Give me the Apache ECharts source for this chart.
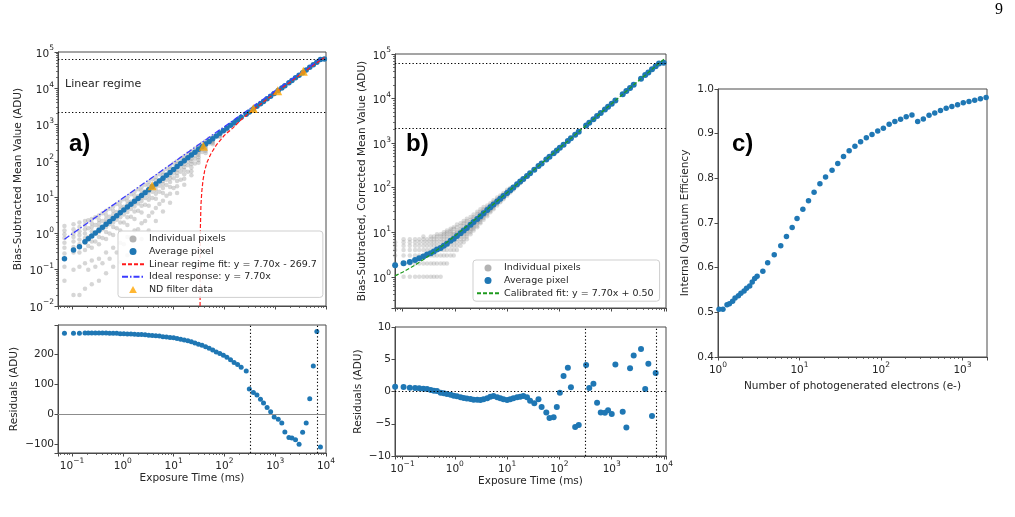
<!DOCTYPE html>
<html>
<head>
<meta charset="utf-8">
<title>Linearity</title>
<script src="https://cdn.jsdelivr.net/npm/echarts@6/dist/echarts.min.js"></script>
<style>
html, body { margin: 0; padding: 0; background: #fff; }
#fig { width: 1015px; height: 517px; }
</style>
</head>
<body>
<div id="fig"></div>
<script>
// ---------- panel a : average pixel, residuals (exposure time in ms) ----------
var timeA = [0.071, 0.107, 0.14, 0.18, 0.209, 0.245, 0.288, 0.339, 0.398, 0.468, 0.55, 0.646, 0.759, 0.891,
  1.047, 1.23, 1.445, 1.70, 2.0, 2.34, 2.75, 3.24, 3.80, 4.47, 5.25, 6.17, 7.24, 8.51, 10, 11.7, 13.8, 16.2,
  19.1, 22.4, 26.3, 30.9, 36.3, 42.7, 50.1, 58.9, 69.2, 81.3, 95.5, 112, 132, 155, 182, 214, 269,
  309, 372, 437, 513, 589, 692, 813, 955, 1148, 1349, 1549, 1862, 2138, 2512, 2951, 3467, 4074, 4786,
  5623, 6607, 7762];
var meanA = [0.20, 0.35, 0.43, 0.59, 0.71, 0.85, 1.02, 1.23, 1.48, 1.78, 2.13, 2.56, 3.07, 3.69,
  4.43, 5.32, 6.39, 7.67, 9.2, 11.1, 13.3, 16.0, 19.2, 23.1, 27.7, 33.3, 40, 48, 58, 70, 84, 101,
  121, 145, 174, 209, 246, 290, 344, 408, 483, 572, 678, 803, 951, 1127, 1335, 1580, 1940,
  2230, 2700, 3190, 3770, 4350, 5150, 6070, 7160, 8660, 10200, 11800, 14200, 16400, 19400, 22900, 27000, 31900, 37700,
  44500, 52500, 62000];
var residA = [270, 270, 270, 271, 271, 271, 271, 271, 271, 271, 270, 270, 270, 269,
  269, 268, 268, 267, 266, 266, 265, 264, 263, 262, 261, 259, 258, 256, 255, 253, 250, 248,
  245, 242, 238, 234, 230, 225, 220, 214, 208, 203, 197, 190, 182, 173, 166, 157, 144,
  84, 72, 64, 50, 37, 22, 8, -10, -17, -30, -60, -78, -80, -86, -101, -61, -30, 51,
  161, 276, -110];
var satA = [[9300, 64500]];

var linFitA = [[33.2, 0.01], [33.4, 0.3], [33.7, 1.5], [34.5, 6], [36, 15], [38, 30], [41, 55], [46, 95],
  [54, 155], [69, 270], [99, 500], [146, 800], [228, 1480], [360, 2500], [1000, 7400], [3000, 22800], [9300, 71000]];
var idealA = [[0.071, 0.69], [7950, 66000]];
var ndFilter = [[3.78, 20.5], [38.6, 251], [372, 2760], [1120, 8500], [3580, 29500]];

// individual pixels (panel a): exposure -> pixel values
var pixTimeA = [0.071, 0.107, 0.14, 0.18, 0.209, 0.245, 0.288, 0.339, 0.398, 0.468, 0.55, 0.646, 0.759, 0.891,
  1.047, 1.23, 1.445, 1.70, 2.0, 2.34, 2.75, 3.24, 3.8, 4.47, 5.25, 6.17, 7.24, 8.51, 10, 11.7, 13.8, 16.2,
  19.1, 22.4, 26.3, 30.9, 36.3, 42.7, 50.1, 58.9, 81.3, 112, 155];
var pixValA = [
  [1.6, 1.2, 0.95, 0.75, 0.55, 0.4, 0.28, 0.12, 0.05],
  [1.8, 1.3, 1.0, 0.8, 0.6, 0.42, 0.3, 0.1, 0.02],
  [2.0, 1.5, 1.15, 0.9, 0.68, 0.5, 0.3, 0.12, 0.02],
  [2.2, 1.7, 1.3, 1.0, 0.75, 0.55, 0.35, 0.15, 0.03],
  [2.3, 1.4, 0.8, 0.45, 0.1],
  [2.5, 1.9, 1.5, 1.15, 0.85, 0.6, 0.4, 0.18, 0.04],
  [2.8, 1.7, 1.0, 0.6, 0.12],
  [3.1, 2.4, 1.9, 1.5, 1.1, 0.8, 0.5, 0.2, 0.05],
  [3.6, 2.2, 1.3, 0.75, 0.15],
  [4.2, 3.2, 2.5, 2.0, 1.5, 1.1, 0.7, 0.3, 0.08],
  [4.8, 2.9, 1.8, 1.0, 0.2],
  [5.5, 4.2, 3.3, 2.6, 2.0, 1.5, 0.9, 0.4, 0.12],
  [6.5, 3.9, 2.4, 1.4, 0.3],
  [7.5, 5.7, 4.5, 3.6, 2.8, 2.0, 1.2, 0.55, 0.16],
  [8.8, 5.4, 3.3, 2.0, 0.5],
  [10, 7.8, 6.2, 5.0, 3.9, 2.8, 1.7, 0.8, 0.25],
  [12, 7.5, 4.7, 2.9, 0.8],
  [14, 11, 8.6, 7.0, 5.5, 4.0, 2.5, 1.2, 0.35],
  [16.5, 10.5, 6.7, 4.2, 1.3],
  [19, 15, 12, 9.8, 7.8, 5.8, 3.8, 1.9, 0.7],
  [22, 14.5, 9.5, 6.2, 2.2],
  [26, 21, 17, 14, 11, 8.5, 5.8, 3.0, 1.2],
  [31, 20.5, 14, 9.5, 3.8],
  [36, 29, 24, 20, 16, 12.5, 9, 5, 2.2],
  [43, 29, 20.5, 14, 6.5],
  [50, 41, 34, 28, 23, 18, 13, 8, 4],
  [60, 42, 30, 21.5, 11],
  [70, 58, 48, 40, 33, 26, 19, 12.5, 7],
  [84, 60, 45, 33, 18],
  [98, 82, 68, 57, 47, 38, 28, 20, 13],
  [115, 85, 65, 50, 30],
  [135, 114, 96, 81, 68, 56, 43, 32, 22],
  [160, 122, 96, 76, 50],
  [185, 158, 135, 115, 98, 82, 66, 52, 40],
  [220, 172, 140, 115, 85],
  [255, 220, 190, 165, 145, 125, 105, 88],
  [300, 245, 205, 175],
  [350, 305, 270, 240, 215, 190, 165],
  [410, 345, 300],
  [470, 420, 380, 345, 315, 285],
  [630, 580, 530, 490, 455],
  [850, 790, 740, 700],
  [1150, 1080, 1020]
];

// ---------- panel b : corrected ----------
var timeB = [0.0724, 0.105, 0.138, 0.174, 0.209, 0.251, 0.295, 0.347, 0.398, 0.457,
  0.537, 0.617, 0.708, 0.832, 0.955, 1.10, 1.29, 1.48, 1.70, 2.0,
  2.29, 2.69, 3.09, 3.55, 4.17, 4.79, 5.50, 6.46, 7.41, 8.51,
  10, 11.5, 13.2, 15.5, 17.8, 20.4, 24, 27.5, 33.1, 39.8,
  45.7, 56.2, 64.6, 77.6, 89.1, 102, 120, 145, 166, 200,
  234, 324, 372, 447, 525, 617, 741, 851, 1000, 1175,
  1622, 1905, 2239, 2630, 3631, 4365, 5012, 5888, 6918];
var meanB = [1.81, 2.01, 2.16, 2.39, 2.61, 2.87, 3.16, 3.40, 3.69, 4.10,
  4.45, 4.96, 5.56, 6.42, 7.20, 8.22, 9.52, 10.9, 12.5, 14.7,
  16.9, 19.9, 23.0, 26.6, 31.5, 36.6, 42.2, 49.3, 56.5, 64.8,
  76.2, 87.9, 101, 119, 137, 157, 184, 211, 253, 305,
  349, 429, 494, 595, 684, 786, 924, 1120, 1280, 1540,
  1800, 2500, 2870, 3440, 4040, 4750, 5710, 6550, 7700, 9050,
  12500, 14700, 17200, 20300, 28000, 33600, 38600, 45300, 53300];
var residB = [0.75, 0.7, 0.6, 0.55, 0.5, 0.44, 0.39, 0.23, 0.13, 0.08,
  -0.18, -0.29, -0.39, -0.49, -0.65, -0.75, -0.91, -1.0, -1.1, -1.17,
  -1.27, -1.27, -1.3, -1.2, -1.06, -0.8, -0.7, -0.9, -1.06, -1.2,
  -1.32, -1.2, -1.06, -0.9, -0.8, -0.7, -0.9, -1.43, -1.84, -1.22,
  -2.4, -3.25, -4.1, -4.0, -2.4, -0.18, 2.4, 3.7, 0.65, -5.5,
  -5.2, 4.1, 0.55, 1.2, -1.75, -3.25, -3.3, -2.9, -3.5, 4.2,
  -3.15, -5.6, 3.6, 5.6, 6.6, 0.4, 4.3, -3.8, 2.85];
var satB = [[8000, 61000], [9800, 63500]];
var calFitB = [[0.072, 1.05], [0.1, 1.27], [0.15, 1.66], [0.2, 2.04], [0.3, 2.81], [0.5, 4.35], [0.7, 5.9],
  [1, 8.2], [2, 15.9], [5, 39], [10, 77.5], [100, 770], [1000, 7700], [10000, 77000]];

var pixTimeB = [0.0724, 0.105, 0.138, 0.174, 0.209, 0.251, 0.295, 0.347, 0.398, 0.457,
  0.537, 0.617, 0.708, 0.832, 0.955, 1.10, 1.29, 1.48, 1.70, 2.0,
  2.29, 2.69, 3.09, 3.55, 4.17, 4.79, 5.50, 6.46, 7.41, 8.51,
  10, 11.5, 13.2, 15.5, 17.8, 20.4];
var pixValB = [
  [2, 3, 4, 5, 6],
  [1, 2, 3, 4, 5, 6, 7],
  [1, 2, 3, 4, 5, 6, 7],
  [1, 2, 3, 4, 5, 6, 7],
  [1, 2, 3, 4, 5, 6, 7],
  [1, 2, 3, 4, 5, 6, 7, 8],
  [1, 2, 3, 4, 5, 6, 7],
  [1, 2, 3, 4, 5, 6, 7, 8],
  [1, 2, 3, 4, 5, 6, 7, 8],
  [1, 2, 3, 4, 5, 6, 7, 8, 9],
  [1, 2, 3, 4, 5, 6, 7, 8, 9],
  [2, 3, 4, 5, 6, 7, 8, 9, 10],
  [2, 3, 4, 5, 6, 7, 8, 9, 10, 11],
  [3, 4, 5, 6, 7, 8, 9, 10, 11, 12],
  [3, 4, 5, 6, 7, 8, 9, 10, 12, 13],
  [4, 5, 6, 7, 8, 9, 10, 11, 13, 15],
  [5, 6, 7, 8, 9, 10, 11, 12, 14, 16],
  [6, 7, 8, 9, 10, 11, 12, 14, 16, 18],
  [7, 8, 9, 10, 11, 12, 13, 14, 16, 18, 20],
  [9, 10, 11, 12, 13, 14, 15, 17, 19, 22],
  [11, 12, 13, 14, 15, 16, 17, 18, 20, 22, 25],
  [13, 14, 16, 17, 18, 19, 20, 21, 23, 26, 29],
  [16, 17, 19, 20, 21, 22, 23, 24, 26, 29, 33],
  [19, 21, 23, 24, 25, 26, 27, 28, 30, 33, 37],
  [23, 25, 27, 29, 30, 31, 32, 34, 36, 40],
  [28, 30, 32, 34, 35, 36, 37, 39, 41, 45],
  [33, 35, 38, 40, 41, 42, 43, 45, 48, 52],
  [40, 43, 46, 48, 49, 50, 52, 55, 60],
  [47, 50, 53, 55, 56, 57, 59, 62, 67],
  [55, 58, 61, 63, 64, 65, 67, 70, 76],
  [66, 70, 73, 75, 76, 77, 79, 83, 90],
  [78, 82, 85, 87, 88, 90, 93, 98],
  [90, 95, 98, 100, 101, 103, 107],
  [108, 113, 117, 119, 121, 125],
  [126, 131, 135, 137, 140],
  [147, 152, 156, 158]
];

// ---------- panel c : internal quantum efficiency ----------
var electronsC = [1.03, 1.15, 1.29, 1.38, 1.51, 1.62, 1.78, 1.91, 2.09, 2.24,
  2.45, 2.63, 2.82, 3.02, 3.55, 4.07, 4.90, 5.89, 6.92, 8.13,
  9.33, 11.0, 12.9, 15.1, 17.8, 20.9, 25.1, 29.5, 34.7, 40.7,
  47.9, 56.2, 66.1, 77.6, 91.2, 107, 126, 148, 174, 204,
  240, 282, 331, 389, 457, 537, 631, 741, 871, 1023,
  1202, 1413, 1660, 1950];
var iqeC = [0.507, 0.507, 0.517, 0.519, 0.525, 0.532, 0.537, 0.543, 0.548, 0.554,
  0.559, 0.568, 0.576, 0.581, 0.592, 0.611, 0.629, 0.649, 0.670, 0.690,
  0.710, 0.731, 0.750, 0.769, 0.788, 0.803, 0.818, 0.833, 0.849, 0.862,
  0.872, 0.882, 0.891, 0.898, 0.906, 0.912, 0.921, 0.927, 0.932, 0.938,
  0.942, 0.927, 0.933, 0.941, 0.946, 0.952, 0.957, 0.961, 0.965, 0.969,
  0.972, 0.975, 0.978, 0.981];

// reference levels
var hLevelsA = [62000, 2240];
var vLevelsA = [320, 6700];
var hLevelsB = [63000, 2200];
var vLevelsB = [312, 7200];

// ---------- helpers ----------
function zip(xs, ys) {
  return xs.map(function (x, i) { return [x, ys[i]]; });
}
function cloud(times, vals) {
  var out = [];
  times.forEach(function (t, i) {
    vals[i].forEach(function (v) { out.push([t, v]); });
  });
  return out;
}
function decade(v) {
  var e = Math.log10(v), k = Math.round(e);
  if (Math.abs(e - k) > 1e-6) return '';
  return '{b|10}{s|' + String(k).replace('-', '\u2212') + '}';
}
var decadeRich = {
  b: {fontSize: 10.5, fontFamily: 'DejaVu Sans', color: '#262626', lineHeight: 15, verticalAlign: 'bottom'},
  s: {fontSize: 7.5, fontFamily: 'DejaVu Sans', color: '#262626', lineHeight: 9, verticalAlign: 'top'}
};
function minus(v) { return String(v).replace('-', '\u2212'); }

var FONT = 'DejaVu Sans';
var INK = '#262626';
var SPINE = '#4a4a4a';
var BLUE = '#1f77b4';

function axis(gridIndex, extra) {
  var base = {
    gridIndex: gridIndex,
    nameLocation: 'middle',
    nameTextStyle: {color: INK, fontSize: 10.5, fontFamily: FONT},
    axisLine: {show: true, onZero: false, lineStyle: {color: SPINE, width: 1}},
    axisTick: {show: true, length: 3.5, lineStyle: {color: SPINE, width: 1}},
    axisLabel: {color: INK, fontSize: 10.5, fontFamily: FONT, margin: 4},
    splitLine: {show: false}
  };
  for (var k in extra) {
    if (typeof extra[k] === 'object' && base[k] && !Array.isArray(extra[k])) {
      base[k] = Object.assign({}, base[k], extra[k]);
    } else {
      base[k] = extra[k];
    }
  }
  return base;
}
function logAxis(gridIndex, min, max, extra) {
  var a = axis(gridIndex, Object.assign({type: 'log', logBase: 10, min: min, max: max}, extra));
  a.minorTick = {show: true, splitNumber: 9, length: 2, lineStyle: {color: SPINE, width: 0.8}};
  if (a.axisLabel.show !== false) {
    a.axisLabel.formatter = decade;
    a.axisLabel.rich = decadeRich;
  }
  return a;
}

function dotted(color) {
  return {color: color || '#000', width: 1.1, type: [1.3, 2.2]};
}
function refLines(hs, vs, zeroStyle) {
  var data = [];
  (hs || []).forEach(function (h) { data.push({yAxis: h, lineStyle: dotted()}); });
  (vs || []).forEach(function (v) { data.push({xAxis: v, lineStyle: dotted()}); });
  if (zeroStyle) data.push({yAxis: 0, lineStyle: zeroStyle});
  return {silent: true, symbol: ['none', 'none'], label: {show: false}, animation: false, data: data};
}

var grids = [
  {left: 58, top: 52, width: 268, height: 254},
  {left: 58, top: 325, width: 268, height: 128},
  {left: 395, top: 54, width: 271, height: 254},
  {left: 395, top: 327, width: 271, height: 129},
  {left: 718, top: 89, width: 269, height: 268}
].map(function (g) {
  return Object.assign({show: true, borderColor: SPINE, borderWidth: 1, containLabel: false}, g);
});

// legend icons: line items keep their dash but hide the marker
var TRIANGLE = 'path://M5,0 L10,9 L0,9 Z';
var legendBase = {
  orient: 'vertical', itemWidth: 22, itemHeight: 7, itemGap: 2.6, symbolKeepAspect: true,
  padding: [3, 6, 3, 3], backgroundColor: 'rgba(255,255,255,0.85)', borderColor: '#cfcfcf', borderWidth: 1,
  borderRadius: 3, textStyle: {fontSize: 9.5, color: INK, fontFamily: FONT}
};

var option = {
  animation: false,
  backgroundColor: '#fff',
  grid: grids,
  xAxis: [
    logAxis(0, 0.053, 10000, {axisLabel: {show: false}}),
    logAxis(1, 0.053, 10000, {name: 'Exposure Time (ms)', nameGap: 20}),
    logAxis(2, 0.072, 10900, {axisLabel: {show: false}}),
    logAxis(3, 0.072, 10900, {name: 'Exposure Time (ms)', nameGap: 20}),
    logAxis(4, 1, 2000, {name: 'Number of photogenerated electrons (e-)', nameGap: 19})
  ],
  yAxis: [
    logAxis(0, 0.01, 100000, {name: 'Bias-Subtracted Mean Value (ADU)', nameGap: 34}),
    axis(1, {type: 'value', min: -130, max: 298, name: 'Residuals (ADU)', nameGap: 38,
      axisLabel: {formatter: function (v) { return v % 100 === 0 ? minus(v) : ''; }}}),
    logAxis(2, 0.2, 100000, {name: 'Bias-Subtracted, Corrected Mean Value (ADU)', nameGap: 27}),
    axis(3, {type: 'value', min: -10, max: 10, interval: 5, name: 'Residuals (ADU)', nameGap: 31,
      axisLabel: {formatter: function (v) { return minus(v); }}}),
    axis(4, {type: 'value', min: 0.4, max: 1.0, interval: 0.1, name: 'Internal Quantum Efficiency', nameGap: 27,
      axisLabel: {formatter: function (v) { return v.toFixed(1); }}})
  ],
  legend: [
    Object.assign({}, legendBase, {
      left: 118, top: 231,
      data: [
        {name: 'Individual pixels', icon: 'circle', itemStyle: {color: '#a0a0a0', opacity: 0.8}},
        {name: 'Average pixel', icon: 'circle'},
        {name: 'Linear regime fit: y = 7.70x - 269.7', itemStyle: {opacity: 0}},
        {name: 'Ideal response: y = 7.70x', itemStyle: {opacity: 0}},
        {name: 'ND filter data', icon: TRIANGLE}
      ]
    }),
    Object.assign({}, legendBase, {
      left: 473, top: 260,
      data: [
        {name: 'Individual pixels', icon: 'circle', itemStyle: {color: '#a0a0a0', opacity: 0.8}},
        {name: 'Average pixel', icon: 'circle'},
        {name: 'Calibrated fit: y = 7.70x + 0.50', itemStyle: {opacity: 0}}
      ]
    })
  ],
  series: [
    // panel a, top
    {name: 'Individual pixels', type: 'scatter', xAxisIndex: 0, yAxisIndex: 0, symbolSize: 4.5,
      itemStyle: {color: '#808080', opacity: 0.32}, data: cloud(pixTimeA, pixValA),
      markLine: refLines(hLevelsA, null)},
    {name: 'Average pixel', type: 'scatter', xAxisIndex: 0, yAxisIndex: 0, symbolSize: 5.5,
      itemStyle: {color: BLUE, opacity: 1}, data: zip(timeA, meanA).concat(satA)},
    {name: 'Linear regime fit: y = 7.70x - 269.7', type: 'line', xAxisIndex: 0, yAxisIndex: 0, symbol: 'none',
      lineStyle: {color: '#ff1a1a', width: 1.2, type: [4, 2]}, itemStyle: {color: '#ff1a1a'}, data: linFitA, z: 3},
    {name: 'Ideal response: y = 7.70x', type: 'line', xAxisIndex: 0, yAxisIndex: 0, symbol: 'none',
      lineStyle: {color: '#3b3bff', width: 1.3, type: [6, 2, 1.5, 2]}, itemStyle: {color: '#3b3bff'}, data: idealA, z: 3},
    {name: 'ND filter data', type: 'scatter', xAxisIndex: 0, yAxisIndex: 0, symbol: 'triangle', symbolSize: 9,
      itemStyle: {color: '#ffa500'}, data: ndFilter, z: 4},
    // panel a, residuals
    {name: 'resA', type: 'scatter', xAxisIndex: 1, yAxisIndex: 1, symbolSize: 5,
      itemStyle: {color: BLUE, opacity: 1}, data: zip(timeA, residA),
      markLine: refLines(null, vLevelsA, {color: '#8c8c8c', width: 1, type: 'solid'})},
    // panel b, top
    {name: 'Individual pixels', type: 'scatter', xAxisIndex: 2, yAxisIndex: 2, symbolSize: 4.5,
      itemStyle: {color: '#808080', opacity: 0.28}, data: cloud(pixTimeB, pixValB),
      markLine: refLines(hLevelsB, null)},
    {name: 'Average pixel', type: 'scatter', xAxisIndex: 2, yAxisIndex: 2, symbolSize: 6,
      itemStyle: {color: BLUE, opacity: 1}, data: zip(timeB, meanB).concat(satB)},
    {name: 'Calibrated fit: y = 7.70x + 0.50', type: 'line', xAxisIndex: 2, yAxisIndex: 2, symbol: 'none',
      lineStyle: {color: '#1e9a1e', width: 1.2, type: [4, 2]}, itemStyle: {color: '#1e9a1e'}, data: calFitB, z: 3},
    // panel b, residuals
    {name: 'resB', type: 'scatter', xAxisIndex: 3, yAxisIndex: 3, symbolSize: 6,
      itemStyle: {color: BLUE, opacity: 1}, data: zip(timeB, residB),
      markLine: refLines(null, vLevelsB, dotted())},
    // panel c
    {name: 'IQE', type: 'scatter', xAxisIndex: 4, yAxisIndex: 4, symbolSize: 5.5,
      itemStyle: {color: BLUE, opacity: 1}, data: zip(electronsC, iqeC)}
  ],
  graphic: [
    {type: 'text', left: 65, top: 79, style: {text: 'Linear regime', fill: INK, font: '11px "DejaVu Sans"'}},
    {type: 'text', left: 69, top: 132, style: {text: 'a)', fill: '#000', font: 'bold 24px "Liberation Sans"'}},
    {type: 'text', left: 406, top: 132, style: {text: 'b)', fill: '#000', font: 'bold 24px "Liberation Sans"'}},
    {type: 'text', left: 732, top: 132, style: {text: 'c)', fill: '#000', font: 'bold 24px "Liberation Sans"'}},
    {type: 'text', left: 995, top: 2, style: {text: '9', fill: '#000', font: '16px "Liberation Serif"'}}
  ]
};

var chart = echarts.init(document.getElementById('fig'), null, {renderer: 'canvas'});
chart.setOption(option);
</script>
</body>
</html>
